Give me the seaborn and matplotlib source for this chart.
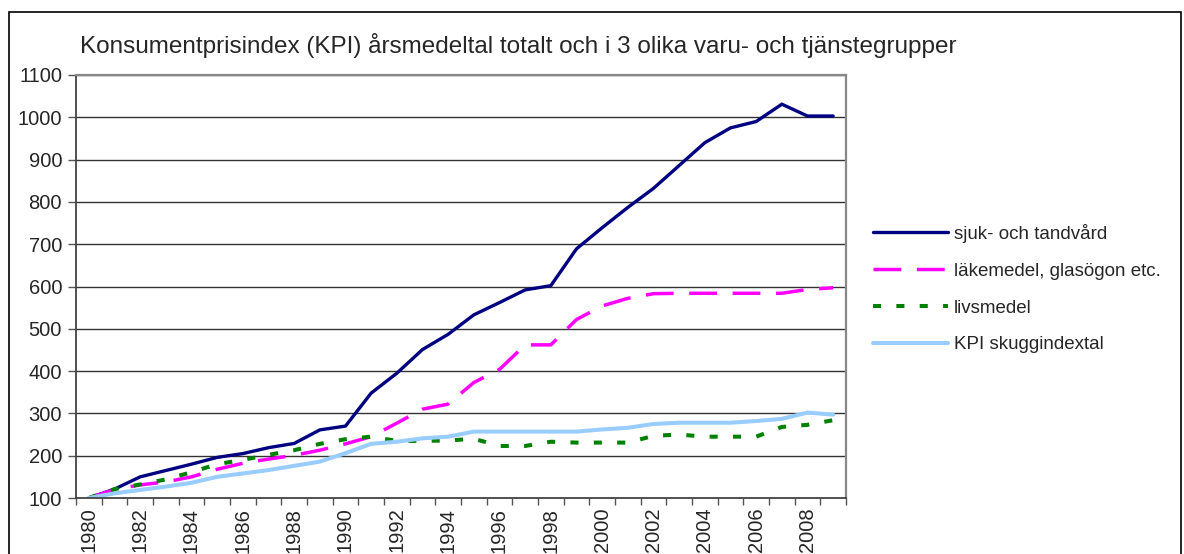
import numpy as np
import pandas as pd
import matplotlib
matplotlib.use("Agg")
import matplotlib.pyplot as plt
from matplotlib.patches import Rectangle
import seaborn as sns

years = list(range(1980, 2010))

sjuk_tandvard = [100, 121, 150, 165, 180, 196, 205, 219, 229, 261,
                 270, 348, 395, 451, 487, 533, 562, 592, 602, 689,
                 739, 787, 832, 886, 940, 975, 990, 1031, 1003, 1003]
lakemedel = [100, 120, 131, 138, 150, 168, 182, 192, 201, 213,
             228, 245, 277, 310, 322, 373, 404, 462, 462, 522,
             554, 572, 583, 584, 584, 584, 584, 584, 593, 597]
livsmedel = [100, 121, 132, 144, 161, 180, 190, 202, 213, 228,
             239, 245, 235, 235, 236, 240, 223, 223, 233, 231,
             231, 231, 247, 250, 245, 245, 245, 268, 273, 284]
kpi_skugg = [100, 111, 119, 127, 136, 150, 158, 166, 176, 186,
             206, 228, 233, 241, 245, 257, 257, 257, 257, 257,
             262, 266, 275, 278, 278, 278, 282, 287, 302, 297]

series_names = ["sjuk- och tandvård", "läkemedel, glasögon etc.",
                "livsmedel", "KPI skuggindextal"]
title = "Konsumentprisindex (KPI) årsmedeltal totalt och i 3 olika varu- och tjänstegrupper"

sns.set_style("white")
plt.rcParams['font.family'] = ['Liberation Sans', 'DejaVu Sans']

fig = plt.figure(figsize=(11.84, 5.54), dpi=100)
ax = fig.add_axes([76 / 1184, 1 - 498 / 554, 770 / 1184, 423 / 554])

styles = [
    dict(color="#000080", linewidth=2.4, linestyle="-"),
    dict(color="#FF00FF", linewidth=2.5, linestyle=(0, (8, 4.5))),
    dict(color="#008000", linewidth=2.9, linestyle=(0, (2, 3.8))),
    dict(color="#99CCFF", linewidth=2.9, linestyle="-"),
]
values = [sjuk_tandvard, lakemedel, livsmedel, kpi_skugg]

for name, vals, st in zip(series_names, values, styles):
    df = pd.DataFrame({"år": years, "index": vals})
    sns.lineplot(data=df, x="år", y="index", ax=ax, label=name,
                 solid_joinstyle="miter", dash_capstyle="butt", **st)

ax.set_xlim(1979.5, 2009.5)
ax.set_ylim(100, 1100)
ax.set_yticks(np.arange(100, 1101, 100))
ax.yaxis.grid(True, color="#333333", linewidth=1)
ax.xaxis.grid(False)
ax.set_xlabel("")
ax.set_ylabel("")

ax.set_xticks(np.arange(1979.5, 2010, 1))
ax.set_xticklabels([])
ax.set_xticks(np.arange(1980, 2010, 2), minor=True)
ax.set_xticklabels([str(y) for y in range(1980, 2010, 2)], minor=True,
                   rotation=90, fontsize=14.5)
ax.tick_params(axis="x", which="major", length=5, width=1, color="#555555",
               direction="out", bottom=True)
ax.tick_params(axis="x", which="minor", length=0, pad=7)
ax.tick_params(axis="y", length=6, width=1, color="#555555", direction="out",
               left=True, labelsize=14.5, pad=4)

for side in ["left", "bottom"]:
    ax.spines[side].set_color("#444444")
    ax.spines[side].set_linewidth(1.3)
for side in ["top", "right"]:
    ax.spines[side].set_color("#888888")
    ax.spines[side].set_linewidth(1.6)

fig.text(80 / 1184, 1 - 45 / 554, title, fontsize=17.5, ha="left",
         va="center")

ax.legend(loc="upper left", bbox_to_anchor=(873 / 1184, 1 - 224 / 554),
          bbox_transform=fig.transFigure, frameon=False, fontsize=13.5,
          handlelength=4.0, handletextpad=0.3, labelspacing=1.05,
          borderpad=0, borderaxespad=0)

fig.patches.append(Rectangle((9 / 1184, -0.05), 1172 / 1184, 1.05 - 12 / 554,
                             transform=fig.transFigure, fill=False,
                             edgecolor="black", linewidth=1.2))

fig.savefig("out.png", dpi=100)
